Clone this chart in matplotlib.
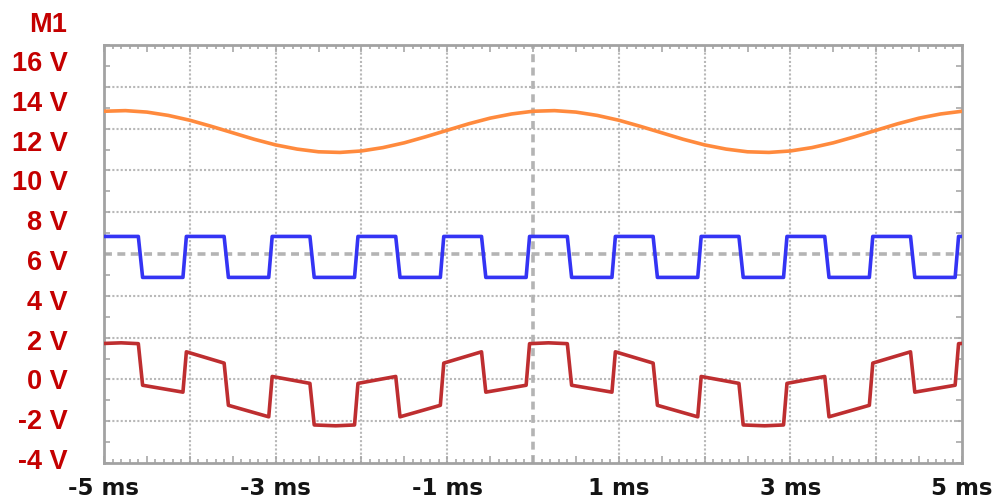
import matplotlib
matplotlib.use("Agg")
import matplotlib.pyplot as plt
import matplotlib.transforms as mtransforms

# ---------------- data ----------------
sine_t = [-5.0, -4.75, -4.5, -4.25, -4.0, -3.75, -3.5, -3.25, -3.0, -2.75, -2.5,
          -2.25, -2.0, -1.75, -1.5, -1.25, -1.0, -0.75, -0.5, -0.25, 0.0,
          0.25, 0.5, 0.75, 1.0, 1.25, 1.5, 1.75, 2.0, 2.25, 2.5,
          2.75, 3.0, 3.25, 3.5, 3.75, 4.0, 4.25, 4.5, 4.75, 5.0]
sine_v = [12.83, 12.86, 12.79, 12.63, 12.40, 12.11, 11.80, 11.49, 11.22, 11.02, 10.89,
          10.86, 10.93, 11.09, 11.32, 11.61, 11.92, 12.23, 12.50, 12.70, 12.83,
          12.86, 12.79, 12.63, 12.40, 12.11, 11.80, 11.49, 11.22, 11.02, 10.89,
          10.86, 10.93, 11.09, 11.32, 11.61, 11.92, 12.23, 12.50, 12.70, 12.83]

square_t = [-5.0, -4.60, -4.55, -4.08, -4.04, -3.60, -3.55, -3.08, -3.04, -2.60, -2.55,
            -2.08, -2.04, -1.60, -1.55, -1.08, -1.04, -0.60, -0.55, -0.08, -0.04,
            0.40, 0.45, 0.92, 0.96, 1.40, 1.45, 1.92, 1.96, 2.40, 2.45,
            2.92, 2.96, 3.40, 3.45, 3.92, 3.96, 4.40, 4.45, 4.92, 4.96, 5.0]
square_v = [6.84, 6.84, 4.88, 4.88, 6.84, 6.84, 4.88, 4.88, 6.84, 6.84, 4.88,
            4.88, 6.84, 6.84, 4.88, 4.88, 6.84, 6.84, 4.88, 4.88, 6.84,
            6.84, 4.88, 4.88, 6.84, 6.84, 4.88, 4.88, 6.84, 6.84, 4.88,
            4.88, 6.84, 6.84, 4.88, 4.88, 6.84, 6.84, 4.88, 4.88, 6.84, 6.84]

math_t = [-5.0, -4.80, -4.60, -4.55, -4.08, -4.04, -3.60, -3.55, -3.08, -3.04, -2.60,
          -2.55, -2.30, -2.08, -2.04, -1.60, -1.55, -1.08, -1.04, -0.60, -0.55,
          -0.08, -0.04, 0.18, 0.40, 0.45, 0.92, 0.96, 1.40, 1.45, 1.92,
          1.96, 2.40, 2.45, 2.70, 2.92, 2.96, 3.40, 3.45, 3.92, 3.96,
          4.40, 4.45, 4.92, 4.96, 5.0]
math_v = [1.72, 1.75, 1.71, -0.28, -0.61, 1.32, 0.78, -1.24, -1.79, 0.14, -0.19,
          -2.18, -2.22, -2.18, -0.19, 0.14, -1.79, -1.24, 0.78, 1.32, -0.61,
          -0.28, 1.71, 1.75, 1.71, -0.28, -0.61, 1.32, 0.78, -1.24, -1.79,
          0.14, -0.19, -2.18, -2.22, -2.18, -0.19, 0.14, -1.79, -1.24, 0.78,
          1.32, -0.61, -0.28, 1.71, 1.72]

x_grid = [-4, -3, -2, -1, 1, 2, 3, 4]
y_grid = [14, 12, 10, 8, 4, 2, 0, -2]
x_center = 0
y_center = 6
x_labels = ["-5 ms", "-3 ms", "-1 ms", "1 ms", "3 ms", "5 ms"]
x_label_pos = [-5, -3, -1, 1, 3, 5]
y_labels = ["16 V", "14 V", "12 V", "10 V", "8 V", "6 V", "4 V", "2 V", "0 V", "-2 V", "-4 V"]
channel_label = "M1"

# ---------------- figure ----------------
W, H = 1001, 500
fig = plt.figure(figsize=(W / 100, H / 100), dpi=100)
ax = fig.add_axes([104 / W, 1 - 463 / H, (962 - 104) / W, (463 - 45) / H])
ax.set_xlim(-5, 5)
ax.set_ylim(-4, 16)

grid_col = "#b8b8b8"
for gx in x_grid:
    ax.axvline(gx, color=grid_col, lw=1.5, ls=(0, (1, 1)), zorder=1)
for gy in y_grid:
    ax.axhline(gy, color=grid_col, lw=1.5, ls=(0, (1, 1)), zorder=1)
ax.axvline(x_center, color="#b4b4b4", lw=2.6, ls=(0, (2.2, 1.5)), zorder=1)
ax.axhline(y_center, color="#b4b4b4", lw=2.6, ls=(0, (2.2, 1.5)), zorder=1)

ax.plot(sine_t, sine_v, color="#FF8A3D", lw=2.6, solid_joinstyle="round", zorder=3)
ax.plot(square_t, square_v, color="#3434F4", lw=2.6, solid_joinstyle="round", zorder=3)
ax.plot(math_t, math_v, color="#BE2E30", lw=2.6, solid_joinstyle="round", zorder=3)

for s in ax.spines.values():
    s.set_color("#a2a2a2")
    s.set_linewidth(2.0)

ax.xaxis.set_major_locator(matplotlib.ticker.MultipleLocator(0.5))
ax.xaxis.set_minor_locator(matplotlib.ticker.MultipleLocator(0.1))
ax.yaxis.set_major_locator(matplotlib.ticker.MultipleLocator(1))
ax.tick_params(axis="both", which="both", direction="in", top=True, right=True,
               color="#a8a8a8", labelbottom=False, labelleft=False)
ax.tick_params(axis="x", which="major", length=5, width=1.2)
ax.tick_params(axis="x", which="minor", length=3, width=1.2)
ax.tick_params(axis="y", which="major", length=4, width=1.2)

# x labels
trans = mtransforms.blended_transform_factory(ax.transData, fig.transFigure)
for xp, lab in zip(x_label_pos, x_labels):
    ax.text(xp, 1 - 495 / H, lab, transform=trans, ha="center", va="baseline",
            fontsize=16.5, fontweight="bold", family="DejaVu Sans", color="#141414")

# y labels (evenly spaced as on the instrument)
n = len(y_labels)
for i, lab in enumerate(y_labels):
    base = 71 + (469 - 71) * i / (n - 1)
    fig.text(68 / W, 1 - base / H, lab, ha="right", va="baseline",
             fontsize=19.5, fontweight="bold", family="Liberation Sans", color="#C40000")
fig.text(67 / W, 1 - 32 / H, channel_label, ha="right", va="baseline",
         fontsize=19.5, fontweight="bold", family="Liberation Sans", color="#C40000")

fig.savefig("out.png", dpi=100)
